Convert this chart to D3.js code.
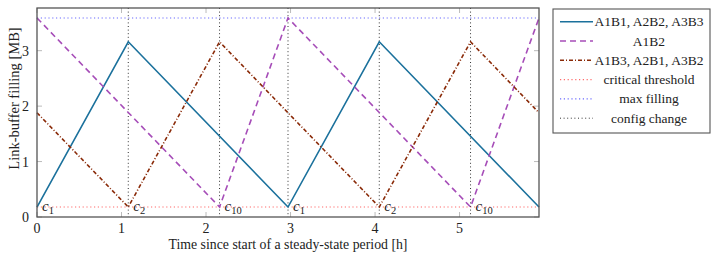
<!DOCTYPE html>
<html>
<head>
<meta charset="utf-8">
<script src="https://cdn.jsdelivr.net/npm/d3@7"></script>
<style>
  body { margin: 0; background: #fff; }
</style>
</head>
<body>
<div id="chart"></div>
<script>
// series data (time [h], filling [MB])
const blueX = [0, 1.08, 2.97, 4.05, 5.94];
const blueY = [0.18, 3.16, 0.18, 3.16, 0.18];
const purpleX = [0, 2.16, 2.97, 5.13, 5.94];
const purpleY = [3.59, 0.18, 3.59, 0.18, 3.59];
const brownX = [0, 1.08, 2.16, 2.97, 4.05, 5.13, 5.94];
const brownY = [1.88, 0.18, 3.16, 1.88, 0.18, 3.16, 1.88];

const threshold = 0.18;
const maxFilling = 3.59;
const configTimes = [1.08, 2.16, 2.97, 4.05, 5.13];
const configLabels = [["c", "1", 0], ["c", "2", 1.08], ["c", "10", 2.16], ["c", "1", 2.97], ["c", "2", 4.05], ["c", "10", 5.13]];

const xTicks = [0, 1, 2, 3, 4, 5];
const yTicks = [0, 1, 2, 3];
const legendLabels = ["A1B1, A2B2, A3B3", "A1B2", "A1B3, A2B1, A3B2", "critical threshold", "max filling", "config change"];

const W = 717, H = 262;
const margin = {top: 8, right: 178, bottom: 45, left: 37};
const width = W - margin.left - margin.right;
const height = H - margin.top - margin.bottom;
const FONT = "Liberation Serif";

const svg = d3.select("#chart").append("svg")
    .attr("width", W)
    .attr("height", H)
    .attr("font-family", FONT)
    .style("font-family", FONT);

const g = svg.append("g")
    .attr("transform", `translate(${margin.left},${margin.top})`);

const x = d3.scaleLinear().domain([0, 5.94]).range([0, width]);
const y = d3.scaleLinear().domain([0, 3.77]).range([height, 0]);

// inward grey ticks on all four sides
const tickLen = 5;
g.selectAll(".xtb").data(xTicks).enter().append("line")
    .attr("x1", d => x(d)).attr("x2", d => x(d))
    .attr("y1", height).attr("y2", height - tickLen)
    .attr("stroke", "#bbb");
g.selectAll(".xtt").data(xTicks).enter().append("line")
    .attr("x1", d => x(d)).attr("x2", d => x(d))
    .attr("y1", 0).attr("y2", tickLen)
    .attr("stroke", "#bbb");
g.selectAll(".ytl").data(yTicks).enter().append("line")
    .attr("x1", 0).attr("x2", tickLen)
    .attr("y1", d => y(d)).attr("y2", d => y(d))
    .attr("stroke", "#bbb");
g.selectAll(".ytr").data(yTicks).enter().append("line")
    .attr("x1", width).attr("x2", width - tickLen)
    .attr("y1", d => y(d)).attr("y2", d => y(d))
    .attr("stroke", "#bbb");

// tick labels
g.selectAll(".xl").data(xTicks).enter().append("text")
    .attr("x", d => x(d)).attr("y", height + 16)
    .attr("text-anchor", "middle")
    .attr("fill", "#222")
    .style("font-size", "14px")
    .text(d => d);
g.selectAll(".yl").data(yTicks).enter().append("text")
    .attr("x", -8).attr("y", d => y(d) + 5)
    .attr("text-anchor", "end")
    .attr("fill", "#222")
    .style("font-size", "14px")
    .text(d => d);

// reference lines
g.append("line")
    .attr("x1", 0).attr("x2", width)
    .attr("y1", y(threshold)).attr("y2", y(threshold))
    .attr("stroke", "#ff6b6b").attr("stroke-width", 1.1)
    .attr("stroke-dasharray", "1.2,2.6");
g.append("line")
    .attr("x1", 0).attr("x2", width)
    .attr("y1", y(maxFilling)).attr("y2", y(maxFilling))
    .attr("stroke", "#6b6bff").attr("stroke-width", 1.1)
    .attr("stroke-dasharray", "1.2,2.6");
g.selectAll(".cfg").data(configTimes).enter().append("line")
    .attr("x1", d => x(d)).attr("x2", d => x(d))
    .attr("y1", 0).attr("y2", height)
    .attr("stroke", "#333").attr("stroke-width", 1)
    .attr("stroke-dasharray", "1,2.6");

// series
const line = d3.line().x(d => x(d[0])).y(d => y(d[1]));
const series = [
    {xs: blueX, ys: blueY, color: "#1b719c", dash: null, w: 1.6},
    {xs: purpleX, ys: purpleY, color: "#a64db8", dash: "6,4", w: 1.6},
    {xs: brownX, ys: brownY, color: "#8a2a08", dash: "4,2,1,2", w: 1.6}
];
series.forEach(s => {
    g.append("path")
        .datum(s.xs.map((v, i) => [v, s.ys[i]]))
        .attr("d", line)
        .attr("fill", "none")
        .attr("stroke", s.color)
        .attr("stroke-width", s.w)
        .attr("stroke-dasharray", s.dash);
});

// config labels
configLabels.forEach(c => {
    const t = g.append("text")
        .attr("x", x(c[2]) + 5)
        .attr("y", y(threshold) + 3.5)
        .attr("fill", "#222")
        .style("font-size", "15px")
        .style("font-style", "italic");
    t.append("tspan").text(c[0]);
    t.append("tspan").attr("dy", 3).style("font-size", "10.5px").style("font-style", "normal").text(c[1]);
});

// frame
g.append("rect")
    .attr("width", width).attr("height", height)
    .attr("fill", "none")
    .attr("stroke", "#555").attr("stroke-width", 1.3);

// axis titles
g.append("text")
    .attr("x", width / 2).attr("y", height + 32)
    .attr("text-anchor", "middle")
    .attr("fill", "#222")
    .style("font-size", "13.8px")
    .text("Time since start of a steady-state period [h]");
g.append("text")
    .attr("transform", `translate(-18,${height / 2 - 14}) rotate(-90)`)
    .attr("text-anchor", "middle")
    .attr("fill", "#222")
    .style("font-size", "14.5px")
    .text("Link-buffer filling [MB]");

// legend
const leg = svg.append("g").attr("transform", "translate(553,9)");
leg.append("rect")
    .attr("width", 157).attr("height", 124)
    .attr("fill", "#fff")
    .attr("stroke", "#555").attr("stroke-width", 1.1);
const legStyles = [
    {color: "#1b719c", dash: null, w: 1.6},
    {color: "#a64db8", dash: "6,4", w: 1.6},
    {color: "#8a2a08", dash: "4,2,1,2", w: 1.6},
    {color: "#ff6b6b", dash: "1.2,2.6", w: 1.1},
    {color: "#6b6bff", dash: "1.2,2.6", w: 1.1},
    {color: "#333", dash: "1,2.6", w: 1}
];
legendLabels.forEach((lab, i) => {
    const yy = 12.7 + i * 19.3;
    leg.append("line")
        .attr("x1", 7).attr("x2", 40)
        .attr("y1", yy).attr("y2", yy)
        .attr("stroke", legStyles[i].color)
        .attr("stroke-width", legStyles[i].w)
        .attr("stroke-dasharray", legStyles[i].dash);
    leg.append("text")
        .attr("x", 96).attr("y", yy + 4.5)
        .attr("text-anchor", "middle")
        .attr("fill", "#222")
        .style("font-size", "13.5px")
        .text(lab);
});
</script>
</body>
</html>
